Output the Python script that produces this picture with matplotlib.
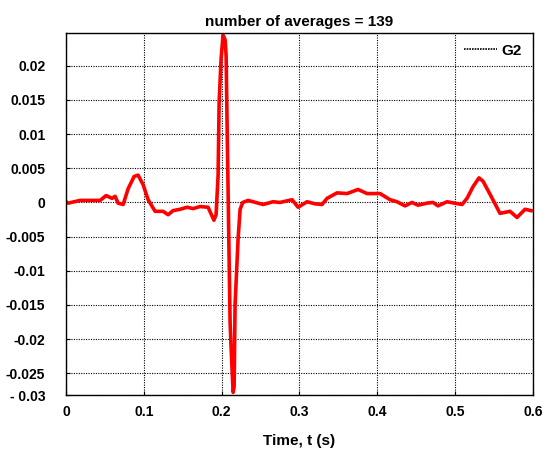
import matplotlib
matplotlib.use('Agg')
from matplotlib import pyplot as plt
from matplotlib.lines import Line2D

# averaged response
t = [0.0, 0.0026, 0.018, 0.0437, 0.0514, 0.059, 0.063, 0.0668, 0.0733, 0.0797,
     0.0874, 0.0925, 0.099, 0.1054, 0.1144, 0.1247, 0.1311, 0.1375, 0.1465, 0.1555,
     0.1632, 0.1722, 0.1825, 0.19, 0.1928, 0.1954, 0.1967, 0.1992, 0.2018, 0.2044,
     0.2057, 0.207, 0.2082, 0.2095, 0.2108, 0.212, 0.2147, 0.216, 0.2172, 0.2211,
     0.2237, 0.2271, 0.234, 0.2532, 0.266, 0.275, 0.2905, 0.2982, 0.3098, 0.32,
     0.329, 0.3355, 0.3483, 0.3612, 0.3753, 0.3869, 0.4036, 0.4165, 0.4254, 0.4357,
     0.4447, 0.4524, 0.464, 0.4717, 0.4781, 0.4897, 0.509, 0.5154, 0.5231, 0.5308,
     0.536, 0.545, 0.5578, 0.5707, 0.5797, 0.59, 0.5977]
g2 = [0.0001, -0.0001, 0.0003, 0.0003, 0.001, 0.0006, 0.0009, -0.0001, -0.0003, 0.002,
      0.0038, 0.004, 0.0026, 0.0004, -0.0013, -0.0013, -0.0018, -0.0012, -0.001, -0.0007,
      -0.0009, -0.0006, -0.0007, -0.0026, -0.0018, 0.004, 0.0146, 0.021, 0.0245, 0.0238,
      0.0215, 0.011, 0.002, -0.008, -0.0175, -0.021, -0.0278, -0.027, -0.015, -0.0053,
      -0.001, 0.0, 0.0003, -0.0003, 0.0001, 0.0, 0.0004, -0.0007, 0.0001, -0.0002,
      -0.0003, 0.0006, 0.0014, 0.0013, 0.0019, 0.0013, 0.0013, 0.0004, 0.0001, -0.0005,
      0.0, -0.0004, -0.0001, 0.0, -0.0005, 0.0001, -0.0003, 0.0006, 0.0023, 0.0036,
      0.0031, 0.0012, -0.0016, -0.0013, -0.0022, -0.001, -0.0012]

xticks = [0, 0.1, 0.2, 0.3, 0.4, 0.5, 0.6]
xticklabels = ['0', '0.1', '0.2', '0.3', '0.4', '0.5', '0.6']
ybottom = -0.0282
yticks = [ybottom, -0.025, -0.02, -0.015, -0.01, -0.005, 0, 0.005, 0.01, 0.015, 0.02]
yticklabels = ['- 0.03', '-0.025', '-0.02', '-0.015', '-0.01', '-0.005', '0',
               '0.005', '0.01', '0.015', '0.02']

plt.rcParams['font.family'] = ['Liberation Sans', 'DejaVu Sans']
plt.rcParams['font.weight'] = 'bold'

fig = plt.figure(figsize=(5.51, 4.49), dpi=100)
ax = fig.add_axes([0.12, 0.12, 0.847, 0.8065])

ax.plot(t, g2, color='red', lw=2.6, solid_joinstyle='round')

ax.set_xlim(0, 0.6)
ax.set_ylim(ybottom, 0.0248)
ax.set_xticks(xticks)
ax.set_xticklabels(xticklabels, fontsize=10, fontweight='bold')
ax.set_yticks(yticks)
ax.set_yticklabels(yticklabels, fontsize=10, fontweight='bold')
ax.tick_params(direction='in', length=3)
ax.tick_params(axis='x', pad=7)
ax.tick_params(axis='y', pad=15)

ax.grid(True, color='black', linestyle=(0, (1, 1.2)), lw=0.8)
for s in ax.spines.values():
    s.set_linewidth(1.0)

ax.set_title('number of averages = 139', fontsize=11, fontweight='bold', pad=5)
ax.set_xlabel('Time, t (s)', fontsize=11, fontweight='bold', labelpad=11)

proxy = Line2D([], [], color='black', linestyle=(0, (1, 0.6)), lw=1.2)
ax.legend([proxy], ['G2'], loc='upper right', frameon=False,
          handlelength=2.2, handletextpad=0.3, borderaxespad=0.3,
          prop={'weight': 'bold', 'size': 11})

fig.savefig('out.png', dpi=100)
